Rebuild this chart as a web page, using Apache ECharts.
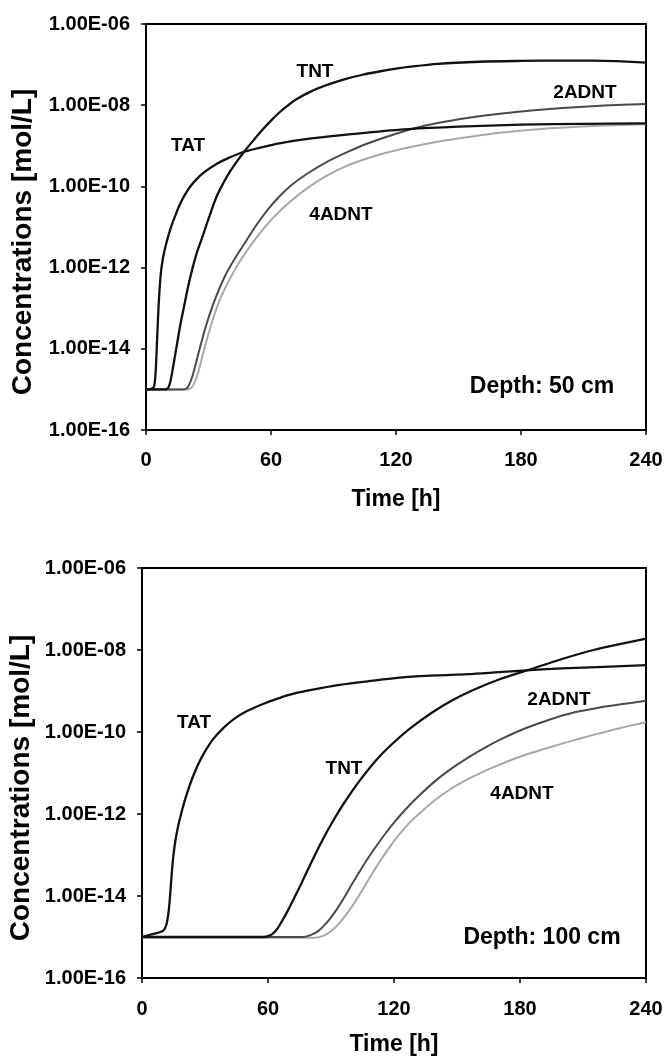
<!DOCTYPE html>
<html>
<head>
<meta charset="utf-8">
<script src="https://cdn.jsdelivr.net/npm/echarts@6/dist/echarts.min.js"></script>
<style>
  html, body { margin: 0; padding: 0; background: #fff; }
  #chart { width: 664px; height: 1057px; }
</style>
</head>
<body>
<div id="chart"></div>
<script>
// Simulated concentrations (log10 of mol/L) versus time in hours, two depths.

const timeTicks = [0, 60, 120, 180, 240];
const concTickExponents = [-16, -14, -12, -10, -8, -6];

// ---- Depth 50 cm ----
const tat50Hours = [0, 3, 4, 4.7, 5.3, 5.9, 6.5, 7.2, 8.2, 9.5, 11, 12.5, 14.2, 16.3, 18.5, 21, 24.3, 28, 34, 40, 47.5, 56, 64, 75, 88, 105, 126, 150, 180, 210, 240];
const tat50LogC  = [-15, -14.98, -14.9, -14.5, -13.8, -13.1, -12.55, -12.1, -11.75, -11.45, -11.17, -10.93, -10.7, -10.44, -10.22, -10.02, -9.82, -9.65, -9.44, -9.29, -9.14, -9.03, -8.94, -8.85, -8.77, -8.68, -8.59, -8.53, -8.48, -8.46, -8.45];

const tnt50Hours = [0, 9, 10.5, 11.5, 12.5, 13.5, 15, 16.5, 18.3, 20.3, 22.4, 24.5, 26.7, 30, 33.9, 37, 40, 44, 47.5, 52, 56, 60, 64, 68, 72, 80, 88, 96, 104, 112, 120, 127, 140, 160, 180, 200, 215, 228, 240];
const tnt50LogC  = [-15, -15, -14.97, -14.85, -14.6, -14.3, -13.85, -13.4, -12.95, -12.45, -12.0, -11.62, -11.3, -10.8, -10.25, -9.93, -9.66, -9.36, -9.12, -8.84, -8.6, -8.38, -8.18, -8.01, -7.86, -7.64, -7.48, -7.35, -7.25, -7.17, -7.1, -7.05, -6.98, -6.93, -6.91, -6.9, -6.9, -6.92, -6.95];

const adnt2_50Hours = [0, 18, 20, 22, 24, 26, 29, 33, 38, 43, 48, 53, 58, 64, 70, 77, 86, 96, 106, 116, 128, 140, 155, 170, 185, 200, 220, 240];
const adnt2_50LogC  = [-15, -15, -14.95, -14.72, -14.35, -13.95, -13.4, -12.8, -12.2, -11.75, -11.35, -10.95, -10.6, -10.25, -9.96, -9.7, -9.42, -9.17, -8.95, -8.77, -8.58, -8.44, -8.31, -8.21, -8.13, -8.07, -8.01, -7.97];

const adnt4_50Hours = [0, 20, 22, 24, 26, 28, 31, 35, 40, 45, 50, 55, 60, 65, 70, 77, 86, 96, 105, 114, 127, 140, 154, 170, 194, 215, 240];
const adnt4_50LogC  = [-15, -15, -14.95, -14.75, -14.4, -14.0, -13.45, -12.85, -12.3, -11.85, -11.47, -11.13, -10.83, -10.57, -10.34, -10.06, -9.76, -9.5, -9.33, -9.19, -9.03, -8.9, -8.79, -8.68, -8.57, -8.51, -8.47];

// ---- Depth 100 cm ----
const tat100Hours = [0, 5, 10, 11.5, 12.5, 13.2, 13.8, 14.4, 15.1, 16, 17.2, 18.7, 20.5, 22.5, 24.7, 27, 29.8, 33.8, 38.8, 43.9, 50, 57.9, 66, 74, 84, 94, 108, 124, 140, 155, 170, 185, 200, 220, 240];
const tat100LogC  = [-15, -14.93, -14.85, -14.72, -14.45, -14.1, -13.7, -13.3, -12.95, -12.62, -12.3, -11.98, -11.65, -11.33, -11.03, -10.76, -10.49, -10.18, -9.9, -9.68, -9.49, -9.31, -9.16, -9.04, -8.94, -8.85, -8.76, -8.67, -8.62, -8.59, -8.54, -8.49, -8.45, -8.41, -8.37];

const tnt100Hours = [0, 58, 60, 62, 64, 66, 69, 72, 76, 80, 84, 88, 92, 96, 102, 108, 114, 120, 128, 138, 148, 158, 170, 185, 200, 215, 228, 240];
const tnt100LogC  = [-15, -15, -14.98, -14.93, -14.83, -14.67, -14.4, -14.1, -13.68, -13.25, -12.83, -12.44, -12.08, -11.75, -11.3, -10.9, -10.55, -10.25, -9.9, -9.53, -9.22, -8.97, -8.72, -8.47, -8.22, -8.0, -7.85, -7.72];

const adnt2_100Hours = [0, 76, 80, 84, 88, 92, 96, 100, 104, 108, 112, 116, 120, 126, 132, 140, 148, 156, 164, 172, 182, 194, 206, 218, 230, 240];
const adnt2_100LogC  = [-15, -15, -14.96, -14.85, -14.65, -14.38, -14.06, -13.71, -13.37, -13.05, -12.75, -12.47, -12.21, -11.86, -11.55, -11.18, -10.87, -10.6, -10.36, -10.15, -9.92, -9.7, -9.52, -9.4, -9.31, -9.24];

const adnt4_100Hours = [0, 82, 86, 90, 94, 98, 102, 106, 110, 114, 118, 122, 128, 134, 140, 147, 154.5, 162, 170, 178, 186, 195, 205, 215, 225, 232, 240];
const adnt4_100LogC  = [-15.02, -15.02, -14.98, -14.86, -14.66, -14.4, -14.1, -13.76, -13.42, -13.1, -12.8, -12.53, -12.18, -11.9, -11.64, -11.39, -11.17, -10.98, -10.8, -10.64, -10.5, -10.36, -10.21, -10.07, -9.94, -9.85, -9.76];

const FONT = '"Liberation Sans", Arial, Helvetica, sans-serif';
const INK = '#000';

function toPairs(hours, logC) {
  return hours.map((h, i) => [h, Math.pow(10, logC[i])]);
}

function sciLabel(v) {
  const e = Math.round(Math.log10(v));
  const mag = String(Math.abs(e)).padStart(2, '0');
  return '1.00E' + (e < 0 ? '-' : '+') + mag;
}

function lineSeries(name, hours, logC, color, width, idx) {
  return {
    name: name,
    type: 'line',
    xAxisIndex: idx,
    yAxisIndex: idx,
    data: toPairs(hours, logC),
    showSymbol: false,
    smooth: 0.3,
    lineStyle: { color: color, width: width },
    silent: true
  };
}

const grids = [
  { left: 146, top: 24, width: 500, height: 406 },
  { left: 142, top: 568, width: 504, height: 410 }
];

function xAxisFor(idx, labelMargin, nameGap) {
  return {
    type: 'value',
    gridIndex: idx,
    min: timeTicks[0],
    max: timeTicks[timeTicks.length - 1],
    interval: 60,
    name: 'Time [h]',
    nameLocation: 'middle',
    nameGap: nameGap,
    nameMoveOverlap: false,
    nameTextStyle: { fontFamily: FONT, fontWeight: 'bold', fontSize: 23, color: INK },
    axisLine: { show: true, onZero: false, lineStyle: { color: INK, width: 2 } },
    axisTick: { show: true, inside: false, length: 5, lineStyle: { color: INK, width: 1.5 } },
    axisLabel: { margin: labelMargin, fontFamily: FONT, fontWeight: 'bold', fontSize: 20, color: INK },
    splitLine: { show: false }
  };
}

function yAxisFor(idx) {
  return {
    type: 'log',
    logBase: 10,
    gridIndex: idx,
    min: Math.pow(10, concTickExponents[0]),
    max: Math.pow(10, concTickExponents[concTickExponents.length - 1]),
    interval: 2,
    splitNumber: 5,
    axisLine: { show: true, onZero: false, lineStyle: { color: INK, width: 2 } },
    axisTick: { show: true, inside: false, length: 5, lineStyle: { color: INK, width: 1.5 } },
    axisLabel: { margin: 16, fontFamily: FONT, fontWeight: 'bold', fontSize: 20, color: INK, formatter: sciLabel },
    splitLine: { show: false },
    minorTick: { show: false }
  };
}

function label(text, x, y, size, rotation) {
  return {
    type: 'text',
    x: x,
    y: y,
    rotation: rotation || 0,
    silent: true,
    style: {
      text: text,
      fill: INK,
      fontFamily: FONT,
      fontWeight: 'bold',
      fontSize: size,
      align: 'center',
      verticalAlign: 'middle'
    }
  };
}

const chart = echarts.init(document.getElementById('chart'), null, { renderer: 'canvas' });

chart.setOption({
  animation: false,
  backgroundColor: '#fff',
  grid: grids.map(g => Object.assign({
    show: true,
    borderColor: INK,
    borderWidth: 2,
    backgroundColor: 'transparent',
    outerBoundsMode: 'none',
    containLabel: false
  }, g)),
  xAxis: [xAxisFor(0, 20, 58), xAxisFor(1, 21, 55)],
  yAxis: [yAxisFor(0), yAxisFor(1)],
  series: [
    lineSeries('4ADNT', adnt4_50Hours, adnt4_50LogC, '#a8a8a8', 2, 0),
    lineSeries('2ADNT', adnt2_50Hours, adnt2_50LogC, '#4a4a4a', 2, 0),
    lineSeries('TNT', tnt50Hours, tnt50LogC, '#111', 2.3, 0),
    lineSeries('TAT', tat50Hours, tat50LogC, '#111', 2.3, 0),
    lineSeries('4ADNT', adnt4_100Hours, adnt4_100LogC, '#a8a8a8', 2, 1),
    lineSeries('2ADNT', adnt2_100Hours, adnt2_100LogC, '#4a4a4a', 2, 1),
    lineSeries('TNT', tnt100Hours, tnt100LogC, '#111', 2.3, 1),
    lineSeries('TAT', tat100Hours, tat100LogC, '#111', 2.3, 1)
  ],
  graphic: [
    label('Concentrations [mol/L]', 23, 242, 28, Math.PI / 2),
    label('Concentrations [mol/L]', 21, 788, 28, Math.PI / 2),
    label('TNT', 315, 72, 19),
    label('TAT', 188, 146, 19),
    label('2ADNT', 585, 93, 19),
    label('4ADNT', 341, 215, 19),
    label('Depth: 50 cm', 542, 387, 23),
    label('TAT', 194, 723, 19),
    label('TNT', 344, 769, 19),
    label('2ADNT', 559, 700, 19),
    label('4ADNT', 522, 794, 19),
    label('Depth: 100 cm', 542, 938, 23)
  ]
});
</script>
</body>
</html>
